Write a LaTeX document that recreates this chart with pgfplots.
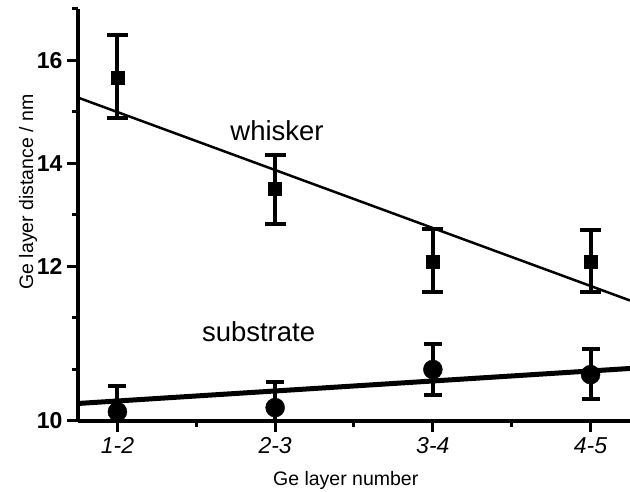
\documentclass[border=0pt]{standalone}
\usepackage{fontspec}
\setmainfont{Liberation Sans}
\usepackage{pgfplots}
\pgfplotsset{compat=1.18}
\begin{document}
\begin{tikzpicture}
\begin{axis}[
  scale only axis,
  width=552pt, height=412pt,
  xmin=0.75, xmax=4.25,
  ymin=9, ymax=17,
  axis x line=bottom, axis y line=left,
  axis line style={-, line width=3.5pt},
  xtick={1,2,3,4},
  xticklabels={\textit{1-2},\textit{2-3},\textit{3-4},\textit{4-5}},
  minor xtick={1.5,2.5,3.5},
  ytick={9,12,14,16},
  yticklabels={\textbf{10},\textbf{12},\textbf{14},\textbf{16}},
  minor ytick={10,11,13,15,17},
  tick align=outside,
  major tick length=11pt, minor tick length=6pt,
  tick style={black, line width=3pt},
  tick label style={font=\fontsize{23}{26}\selectfont},
  xticklabel style={yshift=-2pt},
  yticklabel style={xshift=-1pt},
  /pgf/number format/assume math mode=true,
  xlabel={Ge layer number},
  ylabel={Ge layer distance / nm},
  label style={font=\fontsize{19.5}{23}\selectfont},
  xlabel style={at={(rel axis cs:0.485,0)}, anchor=center, yshift=-59pt},
  ylabel style={at={(rel axis cs:0,0.556)}, anchor=center, yshift=50pt},
]
\coordinate (O) at (rel axis cs:0,0);
% fit lines
\addplot[black, line width=2.5pt] coordinates {(0.75,15.28) (4.25,11.34)};
\addplot[black, line width=5pt] coordinates {(0.75,9.34) (4.25,10.02)};
% whisker
\addplot[black, only marks, mark=square*, mark size=6.5pt,
  error bars/.cd, y dir=both, y explicit,
  error bar style={line width=4pt},
  error mark options={rotate=90, line width=4pt, mark size=10.5pt}]
  table[x=x, y=y, y error plus=ep, y error minus=em] {
  x y ep em
  1 15.67 0.82 0.78
  2 13.51 0.65 0.69
  3 12.10 0.62 0.60
  4 12.10 0.60 0.60
};
% substrate
\addplot[black, only marks, mark=*, mark size=9.5pt,
  error bars/.cd, y dir=both, y explicit,
  error bar style={line width=4pt},
  error mark options={rotate=90, line width=4pt, mark size=9pt}]
  table[x=x, y=y, y error plus=ep, y error minus=em] {
  x y ep em
  1 9.18 0.49 0.49
  2 9.26 0.49 0.49
  3 10.00 0.50 0.50
  4 9.90 0.49 0.48
};
\node[anchor=base, font=\fontsize{27.5}{30}\selectfont] at (axis cs:2.012,14.45) {whisker};
\node[anchor=base, font=\fontsize{27.5}{30}\selectfont] at (axis cs:1.895,10.55) {substrate};
\end{axis}
\pgfresetboundingbox
\path[use as bounding box] (O) ++(-78pt,-71pt) rectangle ++(630pt,492pt);
\end{tikzpicture}
\end{document}
